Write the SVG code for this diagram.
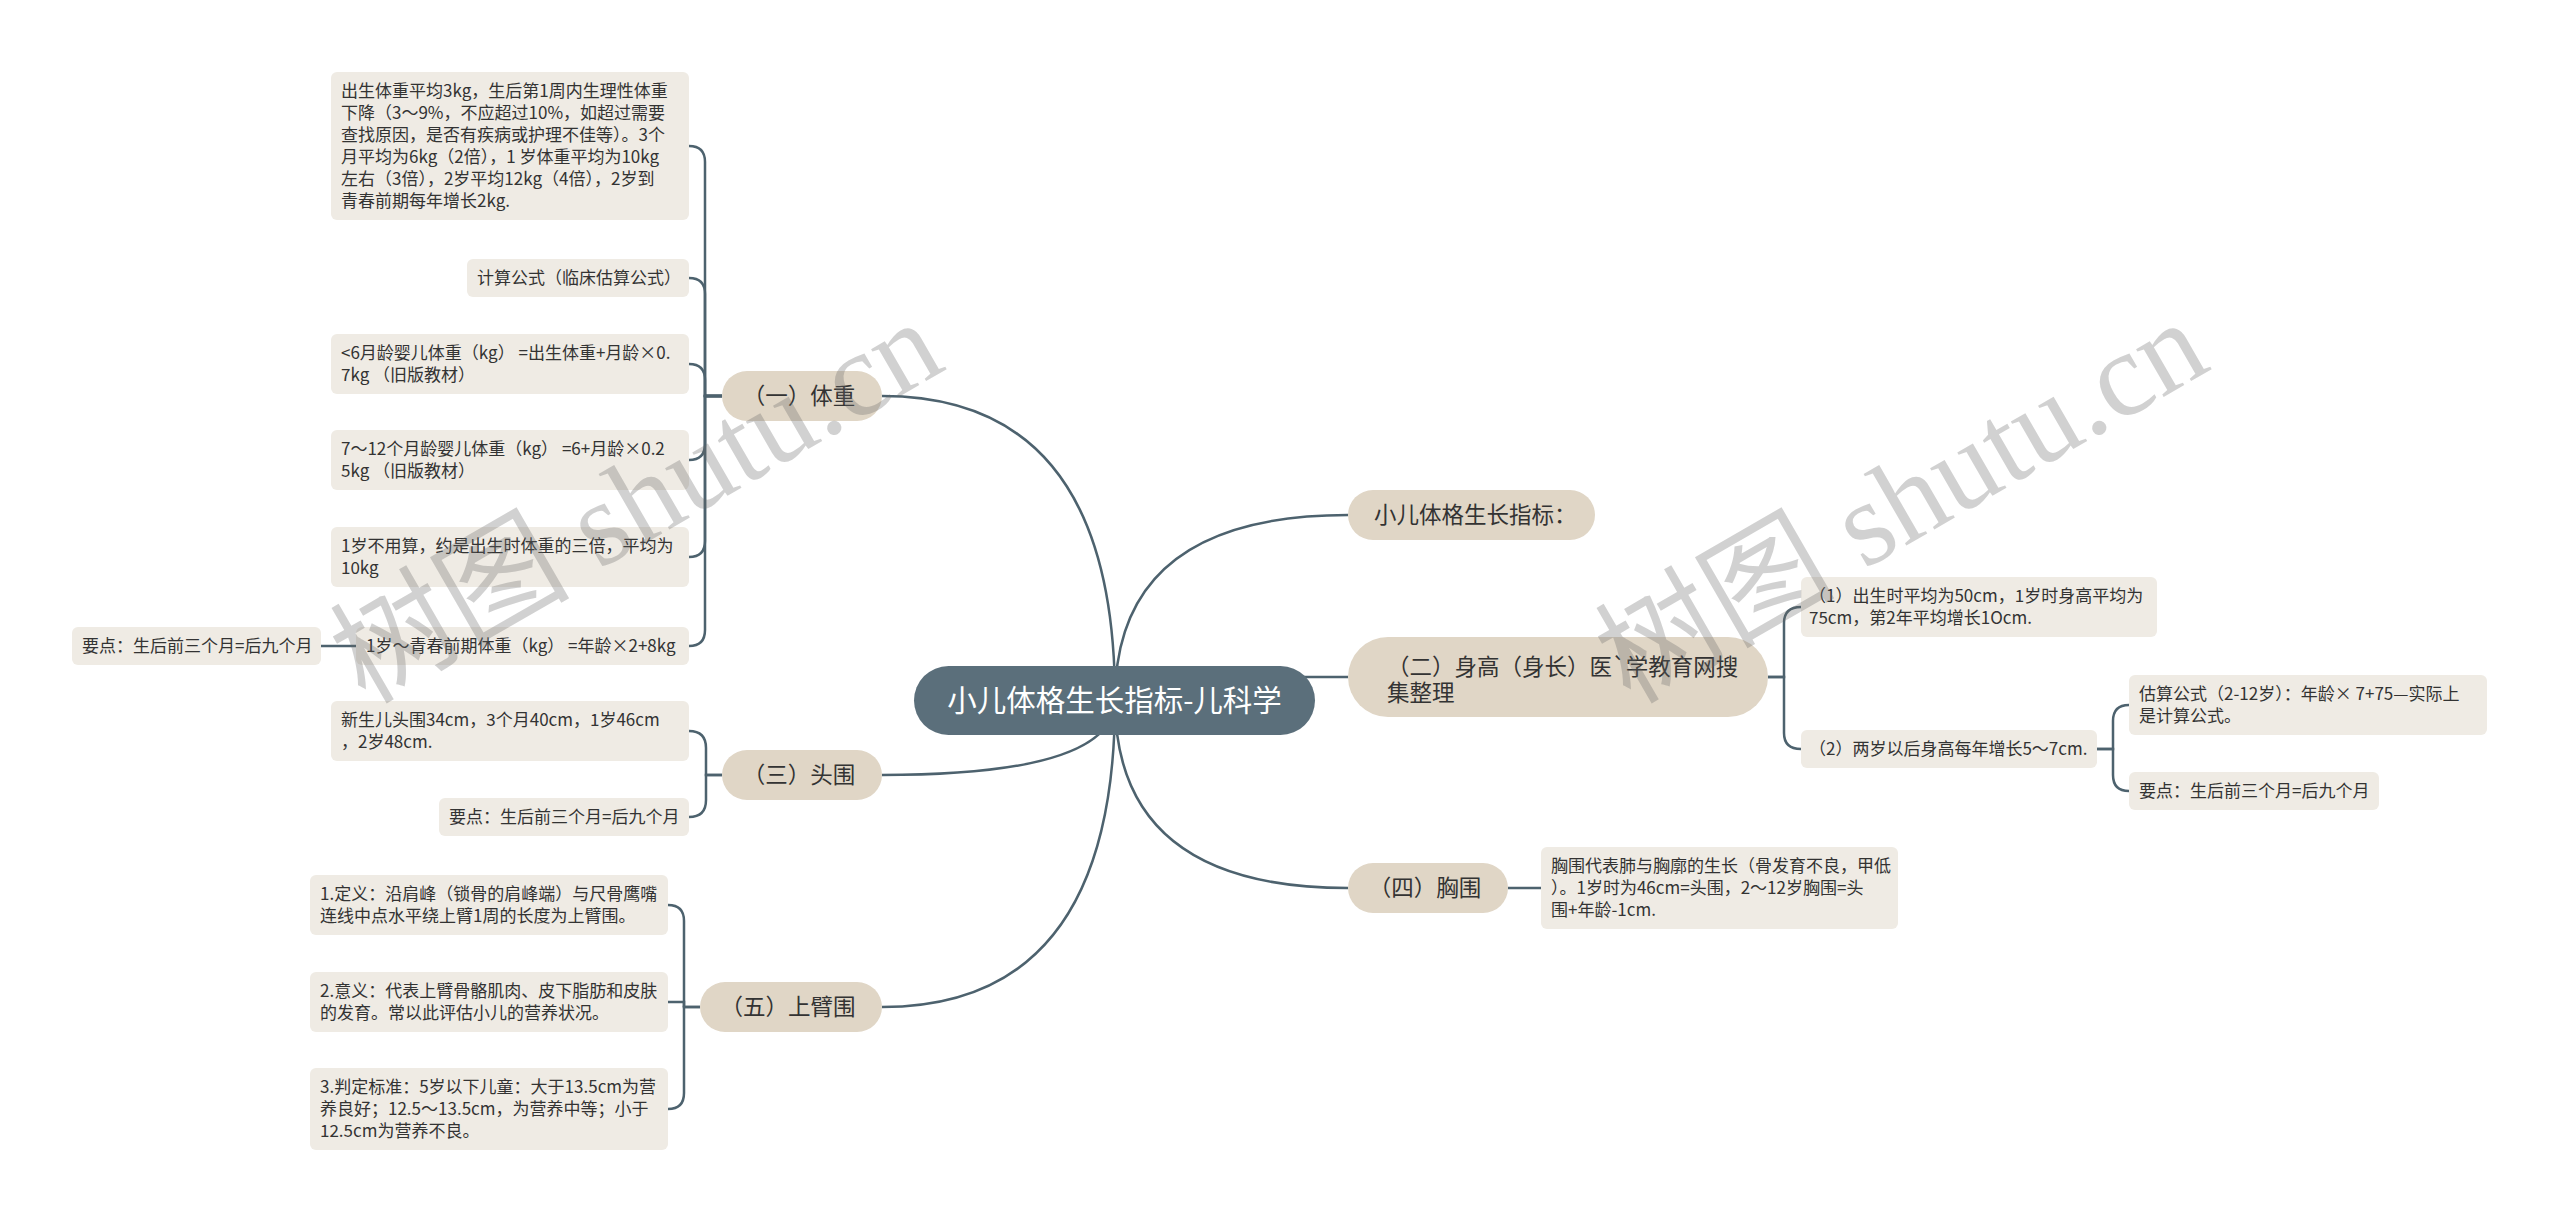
<svg xmlns="http://www.w3.org/2000/svg" width="2560" height="1225" viewBox="0 0 2560 1225">
<style>
text{font-family:"Noto Sans CJK SC","Noto Sans",sans-serif;fill:#333}
.leaf rect{fill:#efebe4}
.leaf text{font-size:17px}
.branch rect{fill:#e0d6c6}
.branch text{font-size:22.5px}
.root rect{fill:#5b6f7b}
.root text{font-size:29.5px;fill:#fff}
.conn path{fill:none;stroke:#4d626e;stroke-width:2.5}
.wm text{font-family:"Liberation Serif","Noto Sans CJK SC",serif;font-size:120px;fill:#666;fill-opacity:0.3}
</style>
<rect width="2560" height="1225" fill="#fff"/>
<g class="conn" id="connectors">
<path d="M1115 700 Q1115 396 882 396"/>
<path d="M1115 700 Q1115 515 1348 515"/>
<path d="M1300 677 L1348 677"/>
<path d="M1115 700 Q1115 775 882 775"/>
<path d="M1115 700 Q1115 1007 882 1007"/>
<path d="M1115 700 Q1115 888 1348 888"/>
<path d="M722 396 H705 V162 Q705 146 689 146"/>
<path d="M722 396 H705 V294 Q705 278 689 278"/>
<path d="M722 396 H705 V380 Q705 364 689 364"/>
<path d="M722 396 H705 V444 Q705 460 689 460"/>
<path d="M722 396 H705 V541 Q705 557 689 557"/>
<path d="M722 396 H705 V630 Q705 646 689 646"/>
<path d="M356 646 H321"/>
<path d="M722 775 H706 V748 Q706 731 689 731"/>
<path d="M722 775 H706 V800 Q706 817 689 817"/>
<path d="M700 1007 H684 V921 Q684 905 668 905"/>
<path d="M684 1007 V1002 H668"/>
<path d="M700 1007 H684 V1093 Q684 1109 668 1109"/>
<path d="M1768 677 H1784 V623 Q1784 607 1801 607"/>
<path d="M1768 677 H1784 V733 Q1784 749 1801 749"/>
<path d="M2097 749 H2113 V721 Q2113 705 2129 705"/>
<path d="M2097 749 H2113 V775 Q2113 791 2129 791"/>
<path d="M1508 888 H1541"/>
</g>
<g id="root" class="root"><rect x="914" y="666" width="401" height="69" rx="34.5"/><text x="1114.5" y="711" text-anchor="middle">小儿体格生长指标-儿科学</text></g>
<g id="b1" class="branch"><rect x="722" y="371" width="160" height="50" rx="25"/><text x="799" y="403.7" text-anchor="middle">（一）体重</text></g>
<g id="b3" class="branch"><rect x="722" y="750" width="160" height="50" rx="25"/><text x="799" y="782.7" text-anchor="middle">（三）头围</text></g>
<g id="b5" class="branch"><rect x="700" y="982" width="182" height="50" rx="25"/><text x="788" y="1014.7" text-anchor="middle">（五）上臂围</text></g>
<g id="b0" class="branch"><rect x="1348" y="490" width="247" height="50" rx="25"/><text x="1374" y="522.7">小儿体格生长指标：</text></g>
<g id="b2" class="branch"><rect x="1348" y="637" width="420" height="80" rx="40"/><text x="1387" y="675">（二）身高（身长）医`学教育网搜</text><text x="1387" y="701">集整理</text></g>
<g id="b4" class="branch"><rect x="1348" y="863" width="160" height="50" rx="25"/><text x="1425" y="895.7" text-anchor="middle">（四）胸围</text></g>
<g id="l1" class="leaf"><rect x="331" y="72" width="358" height="148" rx="6"/><text x="341" y="96.6">出生体重平均3kg，生后第1周内生理性体重</text><text x="341" y="118.6">下降（3～9%，不应超过10%，如超过需要</text><text x="341" y="140.6">查找原因，是否有疾病或护理不佳等）。3个</text><text x="341" y="162.6">月平均为6kg（2倍），1 岁体重平均为10kg</text><text x="341" y="184.6">左右（3倍），2岁平均12kg（4倍），2岁到</text><text x="341" y="206.6">青春前期每年增长2kg.</text></g>
<g id="l2" class="leaf"><rect x="467" y="259" width="222" height="38" rx="6"/><text x="477" y="284">计算公式（临床估算公式）</text></g>
<g id="l3" class="leaf"><rect x="331" y="334" width="358" height="60" rx="6"/><text x="341" y="358.6">&lt;6月龄婴儿体重（kg） =出生体重+月龄×0.</text><text x="341" y="380.6">7kg （旧版教材）</text></g>
<g id="l4" class="leaf"><rect x="331" y="430" width="358" height="60" rx="6"/><text x="341" y="454.6">7～12个月龄婴儿体重（kg） =6+月龄×0.2</text><text x="341" y="476.6">5kg （旧版教材）</text></g>
<g id="l5" class="leaf"><rect x="331" y="527" width="358" height="60" rx="6"/><text x="341" y="551.6">1岁不用算，约是出生时体重的三倍，平均为</text><text x="341" y="573.6">10kg</text></g>
<g id="l6" class="leaf"><rect x="356" y="627" width="333" height="38" rx="6"/><text x="366" y="652">1岁～青春前期体重（kg） =年龄×2+8kg</text></g>
<g id="l7" class="leaf"><rect x="72" y="627" width="249" height="38" rx="6"/><text x="82" y="652">要点：生后前三个月=后九个月</text></g>
<g id="l8" class="leaf"><rect x="331" y="701" width="358" height="60" rx="6"/><text x="341" y="725.6">新生儿头围34cm，3个月40cm，1岁46cm</text><text x="341" y="747.6">，2岁48cm.</text></g>
<g id="l9" class="leaf"><rect x="439" y="798" width="250" height="38" rx="6"/><text x="449" y="823">要点：生后前三个月=后九个月</text></g>
<g id="l10" class="leaf"><rect x="310" y="875" width="358" height="60" rx="6"/><text x="320" y="899.6">1.定义：沿肩峰（锁骨的肩峰端）与尺骨鹰嘴</text><text x="320" y="921.6">连线中点水平绕上臂1周的长度为上臂围。</text></g>
<g id="l11" class="leaf"><rect x="310" y="972" width="358" height="60" rx="6"/><text x="320" y="996.6">2.意义：代表上臂骨骼肌肉、皮下脂肪和皮肤</text><text x="320" y="1018.6">的发育。常以此评估小儿的营养状况。</text></g>
<g id="l12" class="leaf"><rect x="310" y="1068" width="358" height="82" rx="6"/><text x="320" y="1092.6">3.判定标准：5岁以下儿童：大于13.5cm为营</text><text x="320" y="1114.6">养良好；12.5～13.5cm，为营养中等；小于</text><text x="320" y="1136.6">12.5cm为营养不良。</text></g>
<g id="l13" class="leaf"><rect x="1801" y="577" width="356" height="60" rx="6"/><text x="1809" y="601.6">（1）出生时平均为50cm，1岁时身高平均为</text><text x="1809" y="623.6">75cm，第2年平均增长1Ocm.</text></g>
<g id="l14" class="leaf"><rect x="1801" y="730" width="296" height="38" rx="6"/><text x="1809" y="755">（2）两岁以后身高每年增长5～7cm.</text></g>
<g id="l15" class="leaf"><rect x="2129" y="675" width="358" height="60" rx="6"/><text x="2139" y="699.6">估算公式（2-12岁）：年龄× 7+75—实际上</text><text x="2139" y="721.6">是计算公式。</text></g>
<g id="l16" class="leaf"><rect x="2129" y="772" width="250" height="38" rx="6"/><text x="2139" y="797">要点：生后前三个月=后九个月</text></g>
<g id="l17" class="leaf"><rect x="1541" y="847" width="357" height="82" rx="6"/><text x="1551" y="871.6">胸围代表肺与胸廓的生长（骨发育不良，甲低</text><text x="1551" y="893.6">）。1岁时为46cm=头围，2～12岁胸围=头</text><text x="1551" y="915.6">围+年龄-1cm.</text></g>
<g class="wm"><text transform="translate(365,705) rotate(-30)">树图 shutu.cn</text><text transform="translate(1630,705) rotate(-30)">树图 shutu.cn</text></g>
</svg>
